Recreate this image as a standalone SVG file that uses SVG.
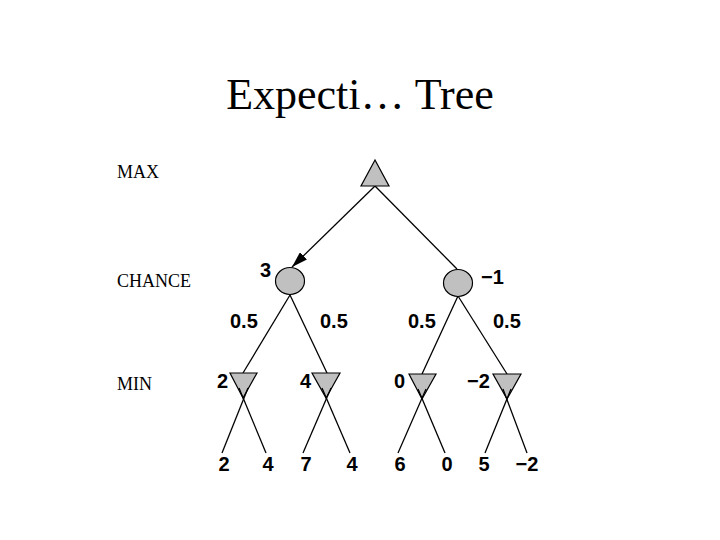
<svg xmlns="http://www.w3.org/2000/svg" width="720" height="540" viewBox="0 0 720 540">
<style>
.title{font-family:"Liberation Serif",serif;font-size:44px;fill:#000}
.lvl{font-family:"Liberation Serif",serif;font-size:18px;fill:#000}
.val{font-family:"Liberation Sans",Arial,sans-serif;font-size:20px;font-weight:bold;fill:#000}
.edge{stroke:#000;stroke-width:1.3;fill:none}
.node{fill:#c0c0c0;stroke:#000;stroke-width:1.2}
</style>
<defs>
<marker id="arr" viewBox="0 0 16 10" refX="16" refY="5" markerWidth="16" markerHeight="10" markerUnits="userSpaceOnUse" orient="auto">
<path d="M0,0 L16,5 L0,10 Z" fill="#000"/>
</marker>
</defs>
<rect width="720" height="540" fill="#fff"/>
<text class="title" x="360" y="109" text-anchor="middle">Expecti… Tree</text>
<text class="lvl" x="117" y="178">MAX</text>
<text class="lvl" x="117" y="287">CHANCE</text>
<text class="lvl" x="117" y="390">MIN</text>
<g id="connectors">
<line class="edge" x1="375" y1="186" x2="292" y2="267" marker-end="url(#arr)"/>
<line class="edge" x1="375" y1="186" x2="457" y2="269"/>
<line class="edge" x1="290" y1="295" x2="243" y2="373"/>
<line class="edge" x1="290" y1="295" x2="327" y2="373"/>
<line class="edge" x1="458" y1="296" x2="422" y2="374"/>
<line class="edge" x1="458" y1="296" x2="507" y2="374"/>
</g>
<g id="max"><polygon class="node" points="375,160 361,186 389,186"/></g>
<g id="chance1"><ellipse class="node" cx="290" cy="281" rx="14.5" ry="13.5"/><text class="val" x="260" y="277">3</text></g>
<g id="chance2"><ellipse class="node" cx="458" cy="283" rx="14.5" ry="13.5"/><text class="val" x="481" y="284">−1</text></g>
<g id="probs">
<text class="val" x="230" y="328">0.5</text>
<text class="val" x="320" y="328">0.5</text>
<text class="val" x="408" y="328">0.5</text>
<text class="val" x="493" y="328">0.5</text>
</g>
<g id="min1"><polygon class="node" points="230,373 257,373 243,398"/><text class="val" x="217" y="388">2</text></g>
<g id="min2"><polygon class="node" points="312,373 340,373 326,398"/><text class="val" x="300" y="388">4</text></g>
<g id="min3"><polygon class="node" points="409,374 436,374 422,399"/><text class="val" x="394" y="388">0</text></g>
<g id="min4"><polygon class="node" points="493,374 521,374 507,399"/><text class="val" x="467" y="388">−2</text></g>
<g id="leafedges">
<line class="edge" x1="248" y1="388" x2="222" y2="453"/>
<line class="edge" x1="239" y1="388" x2="266" y2="453"/>
<line class="edge" x1="331" y1="388" x2="303" y2="453"/>
<line class="edge" x1="322" y1="388" x2="350" y2="453"/>
<line class="edge" x1="426" y1="389" x2="398" y2="453"/>
<line class="edge" x1="418" y1="389" x2="445" y2="453"/>
<line class="edge" x1="511" y1="389" x2="485" y2="453"/>
<line class="edge" x1="503" y1="389" x2="527" y2="453"/>
</g>
<g id="leaves">
<text class="val" x="224" y="471" text-anchor="middle">2</text>
<text class="val" x="268" y="471" text-anchor="middle">4</text>
<text class="val" x="306" y="471" text-anchor="middle">7</text>
<text class="val" x="352" y="471" text-anchor="middle">4</text>
<text class="val" x="400" y="471" text-anchor="middle">6</text>
<text class="val" x="447" y="471" text-anchor="middle">0</text>
<text class="val" x="484" y="471" text-anchor="middle">5</text>
<text class="val" x="527" y="471" text-anchor="middle">−2</text>
</g>
</svg>
